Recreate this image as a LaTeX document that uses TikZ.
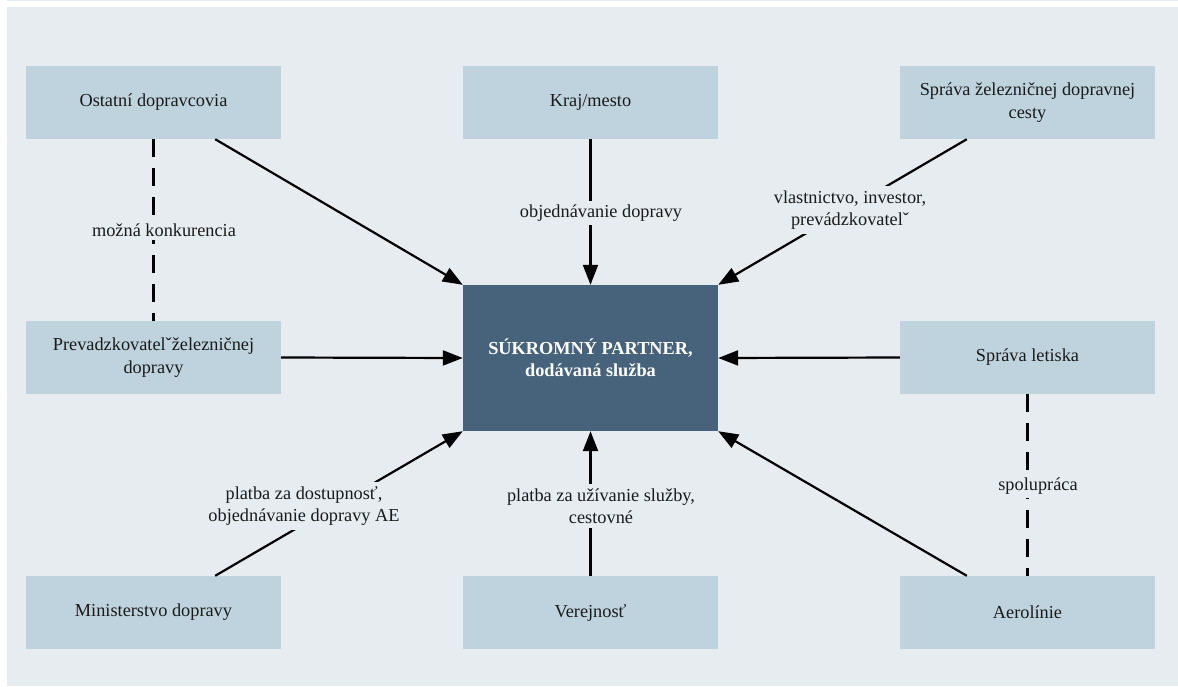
\documentclass[tikz,border=0pt]{standalone}
\usepackage{fontspec}
\setmainfont{Liberation Serif}
\usetikzlibrary{arrows.meta,calc}

\definecolor{panel}{HTML}{E7ECF0}
\definecolor{boxfill}{HTML}{BFD3DE}
\definecolor{corefill}{HTML}{46637B}
\definecolor{ink}{HTML}{1A1A1A}
\newcommand\diagfont{\fontsize{18.3}{22.5}\selectfont}

\begin{document}
\begin{tikzpicture}[x=1pt,y=-1pt,
  actor/.style={fill=boxfill, minimum width=255pt, minimum height=73pt,
    inner sep=0pt, align=center, font=\diagfont, text=ink},
  core/.style={fill=corefill, minimum width=255pt, minimum height=146pt,
    inner sep=0pt, align=center, font=\diagfont\bfseries, text=white},
  link/.style={line width=2.2pt, black, -{Triangle[length=20pt,width=15pt]}},
  dashlink/.style={line width=2.2pt, black, dash pattern=on 18pt off 11pt},
  tag/.style={fill=panel, inner xsep=2pt, inner ysep=4pt, align=center,
    font=\diagfont, text=ink}]

% page and panel
\useasboundingbox (0,0) rectangle (1178,686);
\fill[white] (0,0) rectangle (1178,686);
\fill[panel] (7,7) rectangle (1178,686);
\draw[panel, line width=1pt] (7,0.5) -- (1178,0.5);

% actors
\node[actor] (ostatni) at (153.5,102.5) {Ostatní dopravcovia};
\node[actor] (kraj)    at (590.5,102.5) {Kraj/mesto};
\node[actor] (zel)     at (1027.5,102.5) {Správa železničnej dopravnej\\cesty};
\node[actor] (prev)    at (153.5,357.5) {Prevadzkovatelˇželezničnej\\dopravy};
\node[core]  (partner) at (590.5,358) {SÚKROMNÝ PARTNER,\\dodávaná služba};
\node[actor] (letisko) at (1027.5,357.5) {Správa letiska};
\node[actor] (min)     at (153.5,612.5) {Ministerstvo dopravy};
\node[actor] (verej)   at (590.5,612.5) {Verejnosť};
\node[actor] (aero)    at (1027.5,612.5) {Aerolínie};

% relations towards the private partner
\draw[link] ($(ostatni.south east)+(-66,0)$) -- (partner.north west);
\draw[link] (kraj.south) -- (partner.north);
\draw[link] ($(zel.south west)+(67,0)$) -- (partner.north east);
\draw[link] (prev.east) -- (partner.west);
\draw[link] (letisko.west) -- (partner.east);
\draw[link] ($(min.north east)+(-66,0)$) -- (partner.south west);
\draw[link] (verej.north) -- (partner.south);
\draw[link] ($(aero.north west)+(67,0)$) -- (partner.south east);

% side relations
\draw[dashlink] (ostatni.south) -- (prev.north);
\draw[dashlink] (letisko.south) -- (aero.north);

% relation labels
\node[tag] (konk)   at (164,230)  {možná konkurencia};
\node[tag] (objed)  at (601,213)  {objednávanie dopravy};
\node[tag] (vlast)  at (850,210)  {vlastnictvo, investor,\\prevádzkovatelˇ};
\node[tag] (platba) at (304,506)  {platba za dostupnosť,\\objednávanie dopravy AE};
\node[tag] (cest)   at (601,506)  {platba za užívanie služby,\\cestovné};
\node[tag] (spol)   at (1038,486) {spolupráca};
\end{tikzpicture}
\end{document}
